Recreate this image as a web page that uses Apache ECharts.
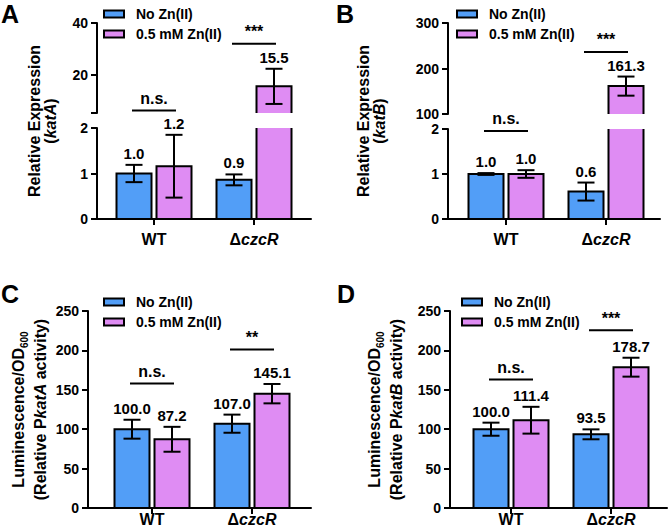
<!DOCTYPE html>
<html>
<head>
<meta charset="utf-8">
<script src="https://cdn.jsdelivr.net/npm/echarts@6/dist/echarts.min.js"></script>
<style>
html, body { margin: 0; padding: 0; background: #fff; }
#chart { width: 669px; height: 532px; }
</style>
</head>
<body>
<div id="chart"></div>
<script>
var categories = ['WT', 'ΔczcR'];
var seriesNames = ['No Zn(II)', '0.5 mM Zn(II)'];

// A: relative expression of katA
var katANoZn = [1.0, 0.86];
var katANoZnSd = [0.19, 0.12];
var katAZn = [1.16, 15.5];
var katAZnSd = [0.69, 6.8];
var katASig = ['n.s.', '***'];
var katASigLevel = [6.2, 32];
var katAUpperMin = 5.2;

// B: relative expression of katB
var katBNoZn = [1.0, 0.61];
var katBNoZnSd = [0.02, 0.2];
var katBZn = [1.0, 161.3];
var katBZnSd = [0.085, 21];
var katBSig = ['n.s.', '***'];
var katBSigLevel = [62.8, 236.5];

// C: PkatA activity
var pkatANoZn = [100.0, 107.0];
var pkatANoZnSd = [12, 11.5];
var pkatAZn = [87.2, 145.1];
var pkatAZnSd = [15.8, 12.3];
var pkatASig = ['n.s.', '**'];
var pkatASigLevel = [158, 201];

// D: PkatB activity
var pkatBNoZn = [100.0, 93.5];
var pkatBNoZnSd = [8.3, 6.3];
var pkatBZn = [111.4, 178.7];
var pkatBZnSd = [17, 12];
var pkatBSig = ['n.s.', '***'];
var pkatBSigLevel = [163, 225.5];

var BLUE = '#529ef7', PINK = '#df8cf3';
var FONT = '"Liberation Sans", Arial, sans-serif';
var BW = 35, OFF = 20, CAP = 8.5, SIG_HALF = 22;

var panels = [
    {
        letter: 'A', lx: 1, ly: 1, yX: 97, xEnd: 311, barLeft: 104, titleGap: 39, lineH: 16,
        title: '{t|Relative Expression}\n{t|(}{i|katA}{t|)}',
        parts: [
            { top: 23, bottom: 113, min: katAUpperMin, max: 40, ticks: [katAUpperMin, 20, 40], labels: [20, 40] },
            { top: 128, bottom: 219, min: 0, max: 2, interval: 1 }
        ],
        noZn: katANoZn, noZnSd: katANoZnSd, zn: katAZn, znSd: katAZnSd, sig: katASig, sigLevel: katASigLevel,
        legend: { left: 103, top: 6 }, xLabelMargin: 12
    },
    {
        letter: 'B', lx: 336, ly: 1, yX: 448, xEnd: 660, barLeft: 456, titleGap: 61, lineH: 16,
        title: '{t|Relative Expression}\n{t|(}{i|katB}{t|)}',
        parts: [
            { top: 23, bottom: 114, min: 100, max: 300, interval: 100 },
            { top: 129, bottom: 219, min: 0, max: 2, interval: 1 }
        ],
        noZn: katBNoZn, noZnSd: katBNoZnSd, zn: katBZn, znSd: katBZnSd, sig: katBSig, sigLevel: katBSigLevel,
        legend: { left: 456, top: 6 }, xLabelMargin: 12
    },
    {
        letter: 'C', lx: 1, ly: 281, yX: 88, xEnd: 311, barLeft: 102, titleGap: 37, lineH: 22,
        title: '{t|Luminescence/OD}{sub|600}\n{t|(Relative P}{i|katA}{t| activity)}',
        parts: [
            { top: 311, bottom: 508, min: 0, max: 250, interval: 50 }
        ],
        noZn: pkatANoZn, noZnSd: pkatANoZnSd, zn: pkatAZn, znSd: pkatAZnSd, sig: pkatASig, sigLevel: pkatASigLevel,
        legend: { left: 103, top: 294 }, xLabelMargin: 3
    },
    {
        letter: 'D', lx: 337, ly: 281, yX: 450, xEnd: 667, barLeft: 461, titleGap: 43, lineH: 22,
        title: '{t|Luminescence/OD}{sub|600}\n{t|(Relative P}{i|katB}{t| activity)}',
        parts: [
            { top: 311, bottom: 508, min: 0, max: 250, interval: 50 }
        ],
        noZn: pkatBNoZn, noZnSd: pkatBNoZnSd, zn: pkatBZn, znSd: pkatBZnSd, sig: pkatBSig, sigLevel: pkatBSigLevel,
        legend: { left: 461, top: 294 }, xLabelMargin: 3
    }
];

var option = {
    animation: false,
    backgroundColor: '#fff',
    grid: [], xAxis: [], yAxis: [], series: [], legend: [], graphic: []
};

function addGrid(g, x, y) {
    var idx = option.grid.length;
    option.grid.push(g);
    x.gridIndex = idx;
    y.gridIndex = idx;
    option.xAxis.push(x);
    option.yAxis.push(y);
    return idx;
}

function blackLine() {
    return { color: '#000', width: 2 };
}

function barItem(side, color) {
    return function (params, api) {
        var top = api.coord([api.value(0), api.value(1)]);
        var base = api.coord([api.value(0), 0]);
        return {
            type: 'rect',
            shape: { x: top[0] + side * OFF - BW / 2, y: top[1], width: BW, height: base[1] - top[1] },
            style: { fill: color, stroke: '#000', lineWidth: 2 }
        };
    };
}

function errItem(side, sd, min, max) {
    return function (params, api) {
        var i = api.value(0), v = api.value(1);
        if (v < min || v > max) return null;
        var e = sd[params.dataIndex];
        var x = api.coord([i, v])[0] + side * OFF;
        var yHi = api.coord([i, v + e])[1];
        var yLo = api.coord([i, v - e])[1];
        return {
            type: 'group',
            children: [
                { type: 'line', shape: { x1: x, y1: yHi, x2: x, y2: yLo }, style: { stroke: '#000', lineWidth: 2 } },
                { type: 'line', shape: { x1: x - CAP, y1: yHi, x2: x + CAP, y2: yHi }, style: { stroke: '#000', lineWidth: 2 } },
                { type: 'line', shape: { x1: x - CAP, y1: yLo, x2: x + CAP, y2: yLo }, style: { stroke: '#000', lineWidth: 2 } },
                {
                    type: 'text', x: x, y: yHi - 4,
                    style: { text: v.toFixed(1), font: 'bold 15px ' + FONT, fill: '#000', align: 'center', verticalAlign: 'bottom' }
                }
            ]
        };
    };
}

function sigItem(sig) {
    return function (params, api) {
        var p = api.coord([api.value(0), api.value(1)]);
        return {
            type: 'group',
            children: [
                { type: 'line', shape: { x1: p[0] - SIG_HALF, y1: p[1], x2: p[0] + SIG_HALF, y2: p[1] }, style: { stroke: '#000', lineWidth: 2 } },
                {
                    type: 'text', x: p[0], y: p[1] - 4,
                    style: { text: sig[params.dataIndex], font: 'bold 16px ' + FONT, fill: '#000', align: 'center', verticalAlign: 'bottom' }
                }
            ]
        };
    };
}

function catFormatter(v) {
    return v.charAt(0) === 'Δ' ? '{b|Δ}{i|' + v.slice(1) + '}' : '{b|' + v + '}';
}

panels.forEach(function (p) {
    var top0 = p.parts[0].top;
    var bottom0 = p.parts[p.parts.length - 1].bottom;
    var titleFont = { fontFamily: FONT, fontWeight: 'bold', fontSize: 16, color: '#000', lineHeight: p.lineH };

    // frame: x axis line and y axis title across the whole panel
    addGrid(
        { left: p.yX, top: top0, width: p.xEnd - p.yX, height: bottom0 - top0 },
        {
            type: 'value', min: 0, max: 1,
            axisLine: { show: true, lineStyle: blackLine() },
            axisTick: { show: false }, axisLabel: { show: false }, splitLine: { show: false }
        },
        {
            type: 'value', min: 0, max: 1,
            axisLine: { show: false }, axisTick: { show: false }, axisLabel: { show: false }, splitLine: { show: false },
            name: p.title, nameLocation: 'middle', nameGap: p.titleGap,
            nameTextStyle: {
                fontFamily: FONT, fontWeight: 'bold', fontSize: 16, color: '#000',
                rich: {
                    t: titleFont,
                    i: Object.assign({}, titleFont, { fontStyle: 'italic' }),
                    sub: { fontFamily: FONT, fontWeight: 'bold', fontSize: 10, color: '#000', lineHeight: p.lineH, verticalAlign: 'bottom' }
                }
            }
        }
    );

    p.parts.forEach(function (part, k) {
        var isLower = k === p.parts.length - 1;
        var yAxis = {
            type: 'value', min: part.min, max: part.max,
            offset: p.barLeft - p.yX,
            axisLine: { show: true, lineStyle: blackLine() },
            axisTick: { show: true, length: 6, lineStyle: blackLine() },
            axisLabel: { margin: 9, color: '#000', fontFamily: FONT, fontWeight: 'bold', fontSize: 14, lineHeight: 13 },
            splitLine: { show: false }
        };
        if (part.interval) yAxis.interval = part.interval;
        if (part.ticks) {
            yAxis.axisTick.customValues = part.ticks;
            yAxis.axisLabel.customValues = part.labels;
        }
        var xAxis = isLower ? {
            type: 'category', data: categories,
            axisLine: { show: false },
            axisTick: { show: true, alignWithLabel: true, length: 6, lineStyle: blackLine() },
            axisLabel: {
                margin: p.xLabelMargin, formatter: catFormatter,
                rich: {
                    b: { fontFamily: FONT, fontWeight: 'bold', fontSize: 16, color: '#000' },
                    i: { fontFamily: FONT, fontWeight: 'bold', fontStyle: 'italic', fontSize: 16, color: '#000' }
                }
            }
        } : { type: 'category', data: categories, show: false };

        var gi = addGrid({ left: p.barLeft, top: part.top, width: 200, height: part.bottom - part.top }, xAxis, yAxis);

        [[p.noZn, p.noZnSd, -1, BLUE, seriesNames[0]], [p.zn, p.znSd, 1, PINK, seriesNames[1]]].forEach(function (s) {
            var data = s[0].map(function (v, i) { return [i, v]; });
            option.series.push({
                type: 'custom', name: s[4], xAxisIndex: gi, yAxisIndex: gi, clip: true, z: 2,
                renderItem: barItem(s[2], s[3]), data: data
            });
            option.series.push({
                type: 'custom', name: s[4], xAxisIndex: gi, yAxisIndex: gi, clip: false, z: 3,
                renderItem: errItem(s[2], s[1], part.min, part.max), data: data
            });
        });

        if (k === 0) {
            option.series.push({
                type: 'custom', name: 'sig', xAxisIndex: gi, yAxisIndex: gi, clip: false, z: 3,
                renderItem: sigItem(p.sig), data: p.sigLevel.map(function (v, i) { return [i, v]; })
            });
        }
    });

    option.legend.push({
        orient: 'vertical', left: p.legend.left, top: p.legend.top, padding: 0,
        itemGap: 4, itemWidth: 20, itemHeight: 7, icon: 'rect', selectedMode: false,
        data: [
            { name: seriesNames[0], itemStyle: { color: BLUE, borderColor: '#000', borderWidth: 2 } },
            { name: seriesNames[1], itemStyle: { color: PINK, borderColor: '#000', borderWidth: 2 } }
        ],
        textStyle: { fontFamily: FONT, fontWeight: 'bold', fontSize: 14, lineHeight: 16, color: '#000', padding: [0, 0, 0, 7] }
    });

    option.graphic.push({
        type: 'text', left: p.lx, top: p.ly,
        style: { text: p.letter, font: 'bold 25px ' + FONT, fill: '#000' }
    });
});

var myChart = echarts.init(document.getElementById('chart'), null, { renderer: 'svg' });
myChart.setOption(option);
</script>
</body>
</html>
